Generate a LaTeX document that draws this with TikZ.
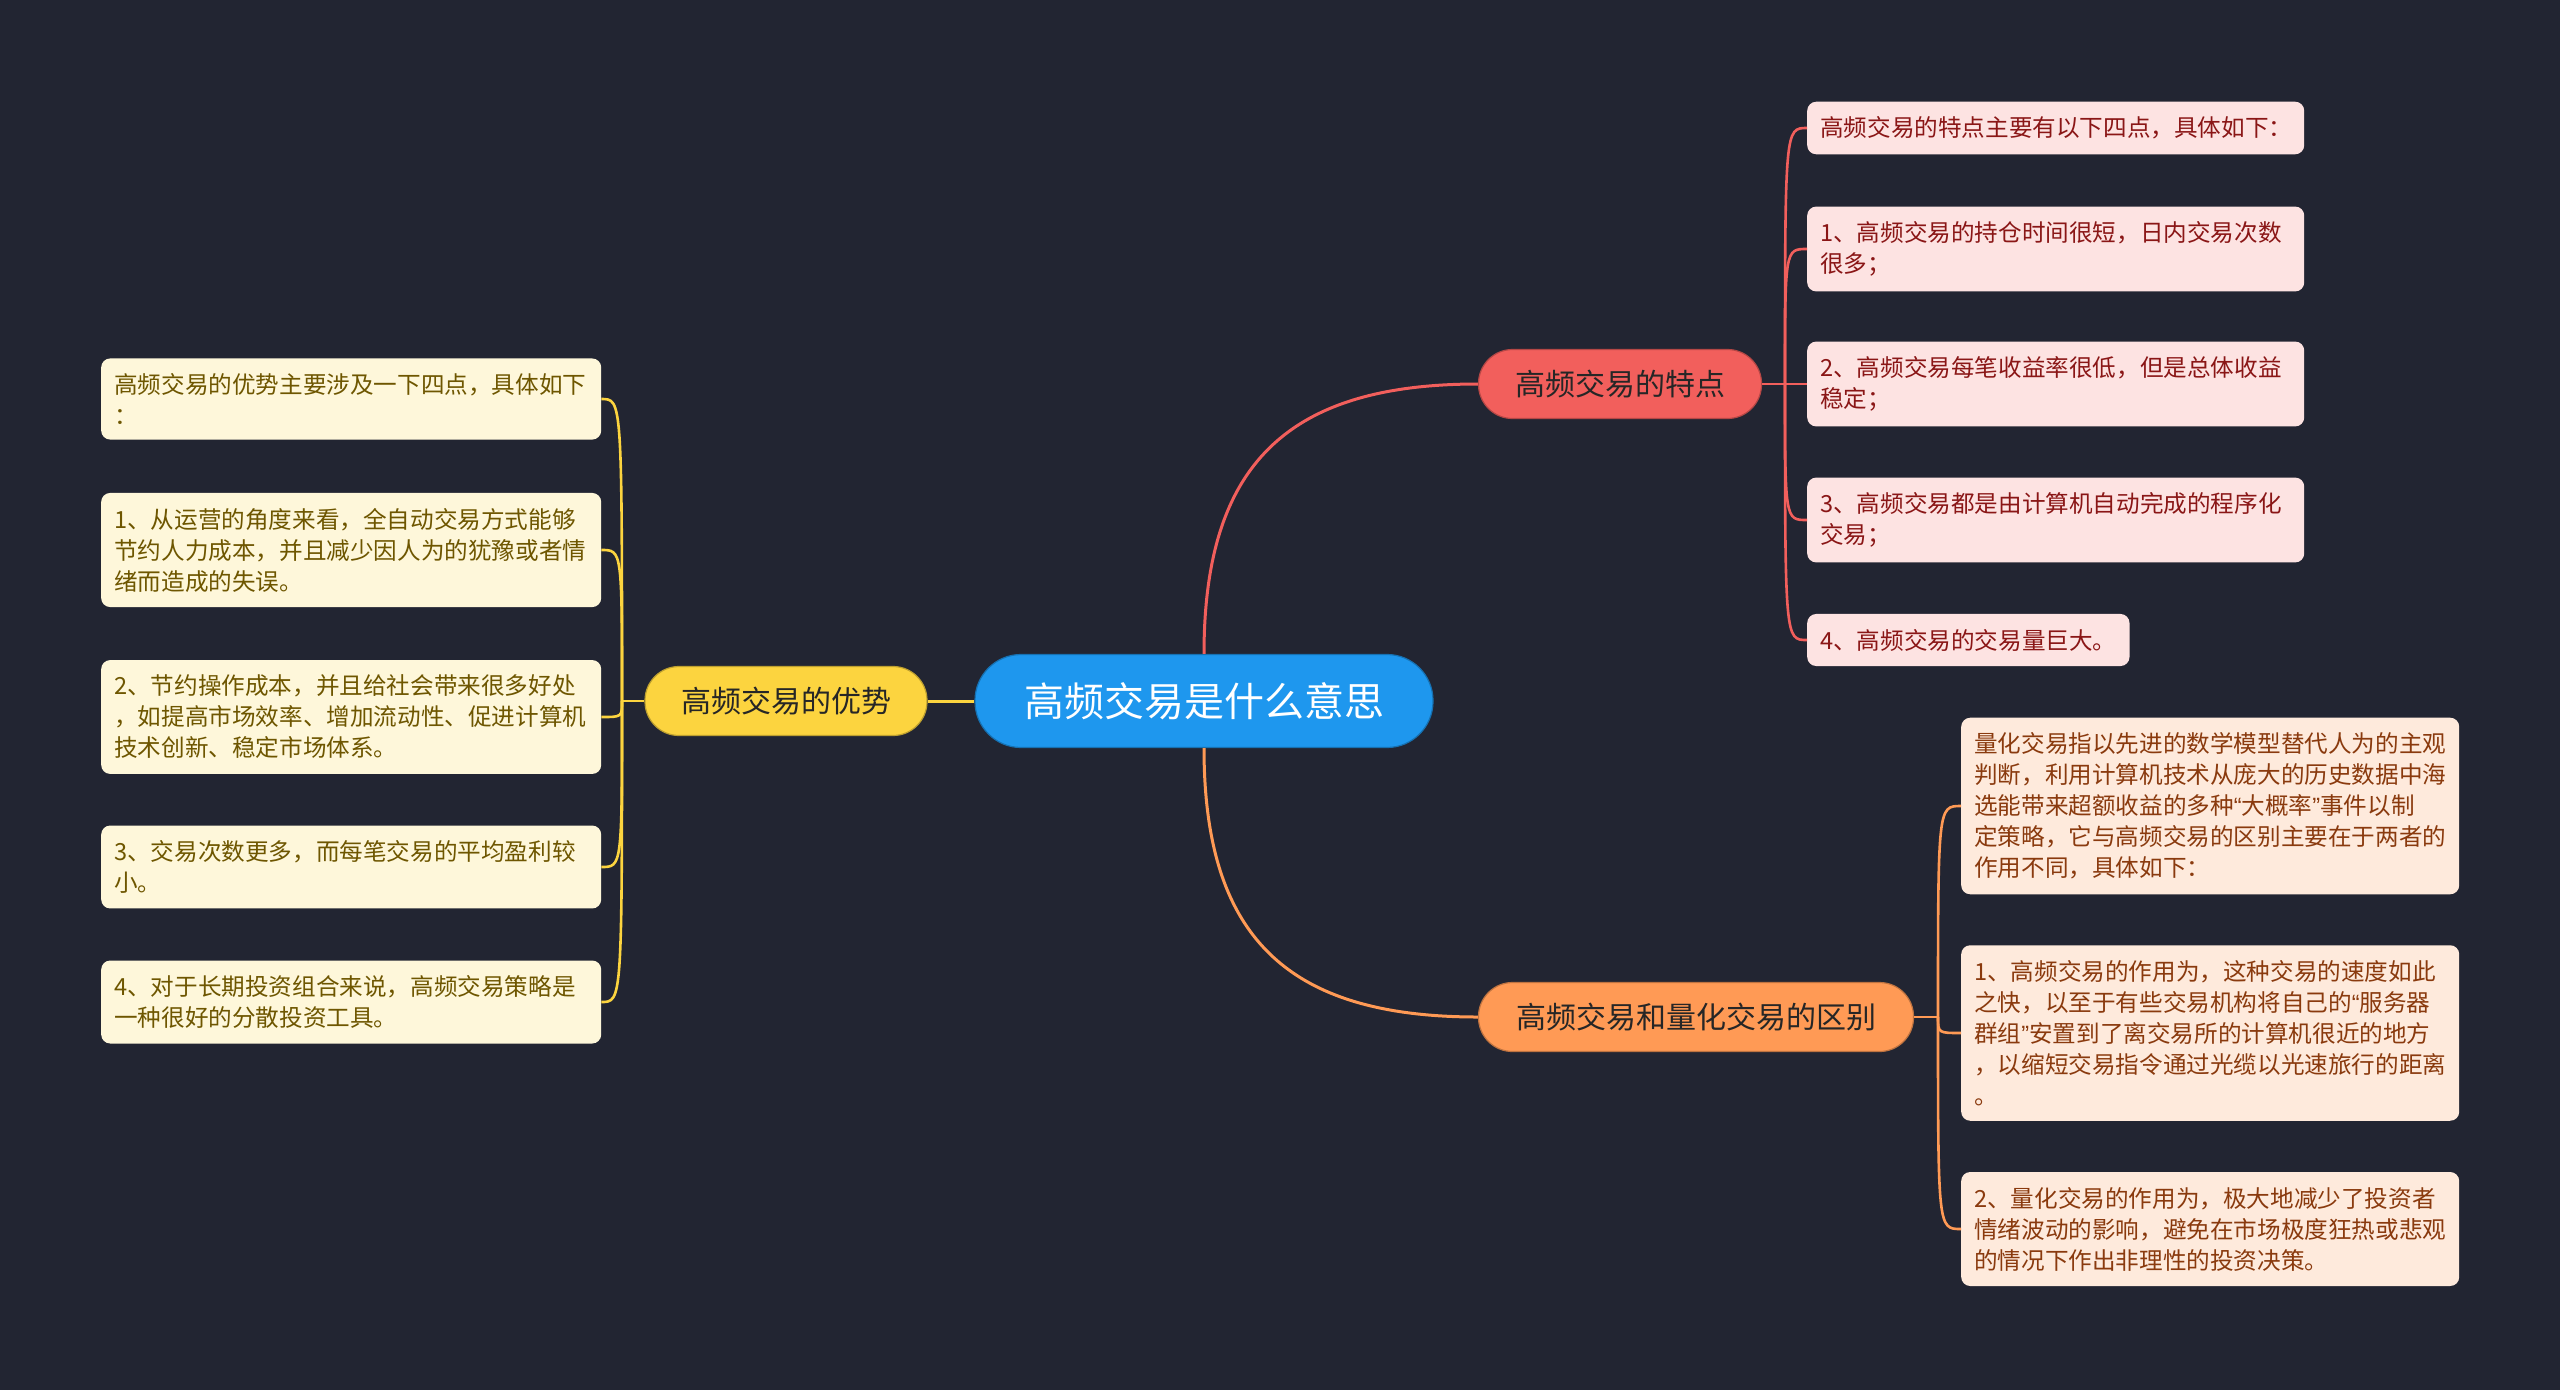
\documentclass[tikz,border=0pt]{standalone}
\usepackage{fontspec}
\setmainfont{Noto Sans CJK SC}
\newfontfamily\qfont{Liberation Sans}

\definecolor{bgcol}{HTML}{222532}
\definecolor{rootcol}{HTML}{1E97EE}
\definecolor{ycol}{HTML}{FCD43F}
\definecolor{rcol}{HTML}{F25F5C}
\definecolor{ocol}{HTML}{FF9A55}
\definecolor{yfill}{HTML}{FEF7DA}
\definecolor{ytext}{HTML}{6E5600}
\definecolor{rfill}{HTML}{FDE3E2}
\definecolor{rtext}{HTML}{8A1616}
\definecolor{ofill}{HTML}{FEEADC}
\definecolor{otext}{HTML}{8A3A0E}

\newcommand{\openq}{{\qfont “}}
\newcommand{\closeq}{{\qfont ”}}

\tikzset{
  topic/.style={fill=#1, draw=#1!75!black, line width=1.2pt, rounded corners=34pt,
    minimum height=69pt, inner sep=0pt, text=black!85,
    font=\fontsize{30}{36}\selectfont},
  leaf/.style={fill=#1, rounded corners=9pt, inner xsep=13pt, inner ysep=15pt,
    align=left, font=\fontsize{23.6}{31}\selectfont},
  yleaf/.style={leaf=yfill, text=ytext, text width=474pt, anchor=west},
  rleaf/.style={leaf=rfill, text=rtext, anchor=west},
  oleaf/.style={leaf=ofill, text=otext, text width=472pt, anchor=west},
  link/.style={draw=#1, line width=2.6pt},
}

\begin{document}
\begin{tikzpicture}[x=1pt,y=-1pt]
\fill[bgcol] (0,0) rectangle (2560,1390);
\useasboundingbox (0,0) rectangle (2560,1390);

% main topics
\node[fill=rootcol, draw=rootcol!75!black, line width=1.2pt, rounded corners=46pt,
  minimum width=458pt, minimum height=93pt, inner sep=0pt, text=white,
  font=\fontsize{40}{48}\selectfont] (root) at (1204,701) {高频交易是什么意思};
\node[topic=ycol, minimum width=282pt] (adv) at (786,701) {高频交易的优势};
\node[topic=rcol, minimum width=283pt] (feat) at (1620,384) {高频交易的特点};
\node[topic=ocol, minimum width=435pt] (diff) at (1696,1017) {高频交易和量化交易的区别};

% left leaves
\node[yleaf] (l0) at (101,399) {高频交易的优势主要涉及一下四点，具体如下\\：};
\node[yleaf] (l1) at (101,550) {1、从运营的角度来看，全自动交易方式能够\\节约人力成本，并且减少因人为的犹豫或者情\\绪而造成的失误。};
\node[yleaf] (l2) at (101,717) {2、节约操作成本，并且给社会带来很多好处\\，如提高市场效率、增加流动性、促进计算机\\技术创新、稳定市场体系。};
\node[yleaf] (l3) at (101,867) {3、交易次数更多，而每笔交易的平均盈利较\\小。};
\node[yleaf] (l4) at (101,1002) {4、对于长期投资组合来说，高频交易策略是\\一种很好的分散投资工具。};

% right top leaves
\node[rleaf, text width=471pt] (r0) at (1807,128) {高频交易的特点主要有以下四点，具体如下：};
\node[rleaf, text width=471pt] (r1) at (1807,249) {1、高频交易的持仓时间很短，日内交易次数\\很多；};
\node[rleaf, text width=471pt] (r2) at (1807,384) {2、高频交易每笔收益率很低，但是总体收益\\稳定；};
\node[rleaf, text width=471pt] (r3) at (1807,520) {3、高频交易都是由计算机自动完成的程序化\\交易；};
\node[rleaf] (r4) at (1807,640) {4、高频交易的交易量巨大。};

% right bottom leaves
\node[oleaf] (b0) at (1961,806) {量化交易指以先进的数学模型替代人为的主观\\判断，利用计算机技术从庞大的历史数据中海\\选能带来超额收益的多种\openq 大概率\closeq 事件以制\\定策略，它与高频交易的区别主要在于两者的\\作用不同，具体如下：};
\node[oleaf] (b1) at (1961,1033) {1、高频交易的作用为，这种交易的速度如此\\之快，以至于有些交易机构将自己的\openq 服务器\\群组\closeq 安置到了离交易所的计算机很近的地方\\，以缩短交易指令通过光缆以光速旅行的距离\\。};
\node[oleaf] (b2) at (1961,1229) {2、量化交易的作用为，极大地减少了投资者\\情绪波动的影响，避免在市场极度狂热或悲观\\的情况下作出非理性的投资决策。};

% connectors
\draw[link=ycol, line width=3pt] (root.west) -- (adv.east);
\draw[link=rcol, line width=3pt] (root.north) .. controls +(0,-190) and +(-190,0) .. (feat.west);
\draw[link=ocol, line width=3pt] (root.south) .. controls +(0,190) and +(-190,0) .. (diff.west);

\coordinate (yj) at (622,701);
\draw[link=ycol] (adv.west) -- (yj);
\foreach \n in {l0,l1,l2,l3,l4}
  \draw[link=ycol] (yj) .. controls (yj |- \n.east) .. (\n.east);

\coordinate (rj) at (1785,384);
\draw[link=rcol] (feat.east) -- (rj);
\foreach \n in {r0,r1,r2,r3,r4}
  \draw[link=rcol] (rj) .. controls (rj |- \n.west) .. (\n.west);

\coordinate (oj) at (1938,1017);
\draw[link=ocol] (diff.east) -- (oj);
\foreach \n in {b0,b1,b2}
  \draw[link=ocol] (oj) .. controls (oj |- \n.west) .. (\n.west);
\end{tikzpicture}
\end{document}
